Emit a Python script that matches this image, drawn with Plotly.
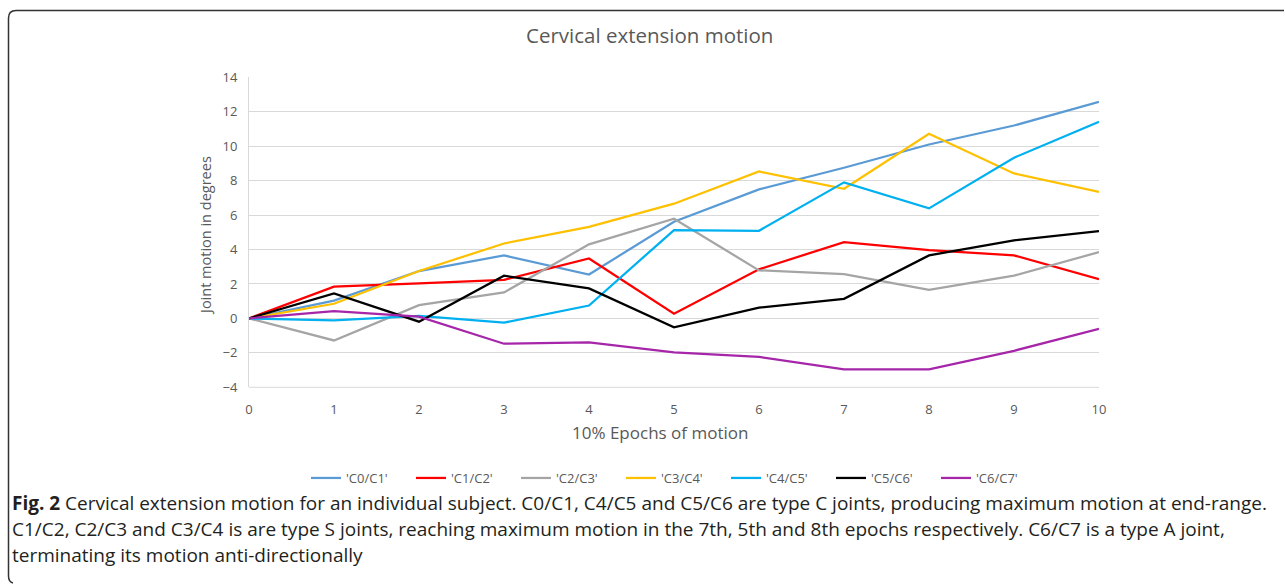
import plotly.graph_objects as go

epochs = [0, 1, 2, 3, 4, 5, 6, 7, 8, 9, 10]
series_names = ["'C0/C1'", "'C1/C2'", "'C2/C3'", "'C3/C4'", "'C4/C5'", "'C5/C6'", "'C6/C7'"]
c0_c1 = [0, 1.03, 2.75, 3.66, 2.55, 5.61, 7.49, 8.75, 10.1, 11.2, 12.58]
c1_c2 = [0, 1.84, 2.03, 2.24, 3.48, 0.27, 2.85, 4.43, 3.97, 3.66, 2.28]
c2_c3 = [0, -1.28, 0.77, 1.51, 4.30, 5.79, 2.79, 2.57, 1.66, 2.48, 3.85]
c3_c4 = [0, 0.85, 2.75, 4.35, 5.32, 6.66, 8.53, 7.53, 10.72, 8.42, 7.34]
c4_c5 = [0, -0.12, 0.15, -0.25, 0.75, 5.13, 5.09, 7.9, 6.39, 9.33, 11.42]
c5_c6 = [0, 1.45, -0.19, 2.48, 1.74, -0.52, 0.62, 1.14, 3.66, 4.53, 5.07]
c6_c7 = [0, 0.43, 0.10, -1.47, -1.39, -1.97, -2.23, -2.96, -2.96, -1.88, -0.6]
series_values = [c0_c1, c1_c2, c2_c3, c3_c4, c4_c5, c5_c6, c6_c7]
colors = ["#5B9BD5", "#FF0000", "#A5A5A5", "#FFC000", "#00B0F0", "#000000", "#A626AA"]
y_ticks = [-4, -2, 0, 2, 4, 6, 8, 10, 12, 14]

W, H = 1285, 584
fig = go.Figure()
for name, vals, col in zip(series_names, series_values, colors):
    fig.add_trace(go.Scatter(x=epochs, y=vals, mode="lines", name=name,
                             line=dict(color=col, width=2.25)))

x0, x1 = 249 / W, 1099 / W
y0, y1 = 1 - 387.3 / H, 1 - 77.3 / H
FONT = "Open Sans, sans-serif"
tick_font = dict(family=FONT, size=13, color="#595959")

fig.update_layout(
    autosize=True,
    margin=dict(l=0, r=0, t=0, b=0, autoexpand=False),
    paper_bgcolor="white", plot_bgcolor="white",
    font=dict(family=FONT, color="#595959"),
    xaxis=dict(domain=[x0, x1], range=[0, 10], tickvals=epochs, ticks="",
               showgrid=False, zeroline=False, showline=False,
               tickfont=tick_font, ticklabelstandoff=13),
    yaxis=dict(domain=[y0, y1], range=[-4, 14], tickvals=y_ticks, ticks="",
               showgrid=True, gridcolor="#D9D9D9", gridwidth=1, zeroline=False,
               showline=True, linecolor="#D9D9D9", linewidth=1,
               tickfont=tick_font, ticklabelstandoff=8),
    showlegend=True,
    legend=dict(orientation="h", x=306 / W, xanchor="left", y=1 - 478 / H, yanchor="middle",
                font=dict(size=13, color="#595959", family=FONT),
                entrywidth=60, entrywidthmode="pixels", tracegroupgap=0,
                bgcolor="rgba(0,0,0,0)"),
)

# x axis baseline (light)
fig.add_shape(type="line", xref="paper", yref="paper", x0=x0, x1=x1, y0=y0, y1=y0,
              line=dict(color="#D9D9D9", width=1))

fig.add_annotation(text="Cervical extension motion", xref="paper", yref="paper",
                   x=649 / W, y=1 - 35 / H, showarrow=False, xanchor="center", yanchor="middle",
                   font=dict(size=20.5, color="#595959", family=FONT))
fig.add_annotation(text="10% Epochs of motion", xref="paper", yref="paper",
                   x=660 / W, y=1 - 432 / H, showarrow=False, xanchor="center", yanchor="middle",
                   font=dict(size=17, color="#595959", family=FONT))
fig.add_annotation(text="Joint motion in degrees", xref="paper", yref="paper", textangle=-90,
                   x=205 / W, y=1 - 235 / H, showarrow=False, xanchor="center", yanchor="middle",
                   font=dict(size=14.5, color="#595959", family=FONT))

caption = [
    "<b>Fig. 2</b> Cervical extension motion for an individual subject. C0/C1, C4/C5 and C5/C6 are type C joints, producing maximum motion at end-range.",
    "C1/C2, C2/C3 and C3/C4 is are type S joints, reaching maximum motion in the 7th, 5th and 8th epochs respectively. C6/C7 is a type A joint,",
    "terminating its motion anti-directionally",
]
for i, line in enumerate(caption):
    fig.add_annotation(text=line, xref="paper", yref="paper", x=10 / W, y=1 - (503 + 26 * i) / H,
                       showarrow=False, xanchor="left", yanchor="middle",
                       font=dict(size=19, color="#231F20", family=FONT))

# rounded frame
fig.add_shape(type="path", xref="paper", yref="paper",
              path=f"M {1284/W},{1-10.5/H} L {16/W},{1-10.5/H} Q {8.5/W},{1-10.5/H} {8.5/W},{1-18/H} "
                   f"L {8.5/W},{1-576/H} Q {8.5/W},{1-582/H} {13/W},{1-583/H}",
              line=dict(color="#333333", width=1.5))

post = ("document.documentElement.style.margin='0';document.body.style.margin='0';"
        "document.documentElement.style.overflow='hidden';document.body.style.overflow='hidden';"
        "var gd=document.getElementById('{plot_id}');"
        "Plotly.relayout(gd,{width:window.innerWidth,height:window.innerHeight});")
fig.write_html("out.html", config={"displayModeBar": False, "responsive": False},
               default_width="100vw", default_height="100vh", post_script=post)
